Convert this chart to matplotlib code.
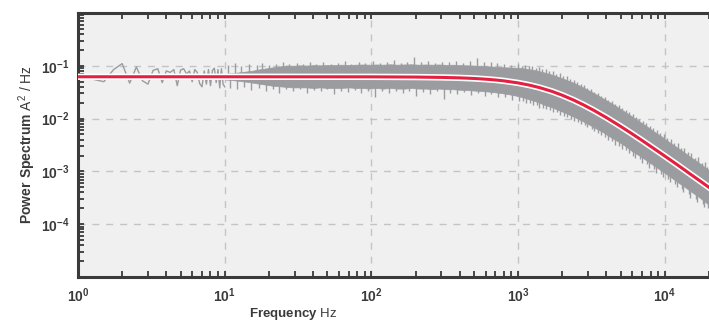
"""
Power spectrum with Lorentzian fit, log-log.
"""

import matplotlib
matplotlib.use("Agg")
import matplotlib.pyplot as plt
import matplotlib.patheffects as pe
import numpy as np
from matplotlib.ticker import LogLocator, NullFormatter

# -------------------------- Data --------------------------

# low-frequency part of the spectrum (sparse points)
low_freq = [1.0, 1.25, 1.5, 1.75, 2.0, 2.25, 2.5, 2.75, 3.0, 3.25, 3.5, 3.75,
            4.0, 4.25, 4.5, 4.75, 5.0, 5.25, 5.5, 5.75, 6.0, 6.25, 6.5, 6.75,
            7.0, 7.25, 7.5, 7.75, 8.0, 8.25, 8.5, 8.75, 9.0, 9.25, 9.5, 9.75, 10.0]
low_power = [0.062, 0.056, 0.050, 0.085, 0.110, 0.047, 0.095, 0.052, 0.045, 0.082,
             0.088, 0.048, 0.080, 0.075, 0.085, 0.042, 0.083, 0.088, 0.070, 0.080,
             0.050, 0.085, 0.075, 0.046, 0.040, 0.080, 0.045, 0.085, 0.042, 0.082,
             0.090, 0.048, 0.085, 0.038, 0.088, 0.045, 0.040]

# dense part of the spectrum: core of the noisy band
band_freq = [10, 11, 12.5, 14, 15.5, 17, 19, 21, 23.5, 26, 29, 32, 36, 40, 45, 50,
             56, 62, 70, 78, 87, 97, 108, 120, 135, 150, 168, 187, 210, 235, 260,
             290, 325, 360, 400, 450, 500, 560, 620, 700, 780, 870, 970, 1080,
             1200, 1350, 1500, 1700, 1900, 2100, 2400, 2700, 3000, 3400, 3800,
             4300, 4800, 5400, 6000, 6800, 7600, 8500, 9500, 10700, 12000, 13500,
             15000, 17000, 19000, 20000]
band_upper = [0.070, 0.072, 0.075, 0.078, 0.081, 0.085, 0.089, 0.093, 0.097, 0.101,
              0.100, 0.102, 0.101, 0.103, 0.102, 0.104, 0.103, 0.105, 0.104, 0.105,
              0.106, 0.105, 0.106, 0.105, 0.107, 0.105, 0.106, 0.107, 0.105, 0.106,
              0.105, 0.106, 0.104, 0.105, 0.103, 0.102, 0.101, 0.100, 0.098, 0.096,
              0.094, 0.093, 0.092, 0.090, 0.086, 0.081, 0.075, 0.068, 0.061, 0.055,
              0.0475, 0.0406, 0.0348, 0.0288, 0.0240, 0.0197, 0.0163, 0.0132,
              0.0109, 0.0086, 0.0070, 0.0056, 0.0046, 0.0036, 0.0029, 0.00232,
              0.00187, 0.00147, 0.00117, 0.00106]
band_lower = [0.055, 0.054, 0.052, 0.050, 0.048, 0.046, 0.044, 0.042, 0.041, 0.040,
              0.039, 0.039, 0.039, 0.038, 0.039, 0.038, 0.038, 0.038, 0.039, 0.038,
              0.038, 0.037, 0.038, 0.037, 0.038, 0.037, 0.037, 0.038, 0.037, 0.037,
              0.036, 0.037, 0.036, 0.036, 0.0352, 0.0347, 0.0340, 0.0333, 0.0326,
              0.0314, 0.0302, 0.0288, 0.0272, 0.0252, 0.0230, 0.0208, 0.0184,
              0.0164, 0.0144, 0.0128, 0.0108, 0.0092, 0.0079, 0.0065, 0.0055,
              0.0044, 0.0037, 0.0030, 0.0024, 0.00195, 0.00157, 0.00127, 0.00103,
              0.00082, 0.00065, 0.00052, 0.00042, 0.00033, 0.00026, 0.00023]

# isolated excursions above the band
spike_up_freq = [10.5, 11.8, 13, 14.6, 16.5, 18, 20, 22.5, 25, 27.5, 31, 34, 38, 42,
                 47, 53, 59, 66, 73, 82, 91, 102, 114, 127, 142, 158, 176, 196, 219,
                 244, 272, 303, 338, 377, 420, 468, 522, 582, 649, 723, 806, 899,
                 1002, 1117, 1245, 1388, 1547, 1725, 1923, 2144, 2390, 2664, 2970,
                 3311, 3691, 4115, 4587, 5114, 5701, 6355, 7085, 7898, 8805, 9816,
                 10943, 12199, 13599, 15160, 16900, 18840]
spike_up_top = [0.105, 0.112, 0.098, 0.108, 0.104, 0.115, 0.102, 0.110, 0.118, 0.106,
                0.112, 0.108, 0.120, 0.110, 0.116, 0.108, 0.114, 0.122, 0.110, 0.117,
                0.112, 0.125, 0.113, 0.118, 0.128, 0.112, 0.120, 0.150, 0.116, 0.124,
                0.114, 0.120, 0.118, 0.126, 0.114, 0.121, 0.140, 0.118, 0.120, 0.112,
                0.110, 0.104, 0.108, 0.105, 0.101, 0.095, 0.087, 0.080, 0.072, 0.063,
                0.054, 0.046, 0.0386, 0.0325, 0.0271, 0.0226, 0.0188, 0.0157, 0.0131,
                0.0109, 0.0090, 0.0074, 0.0060, 0.0050, 0.0041, 0.0034, 0.0028,
                0.0022, 0.00185, 0.00151]
hf_up_freq = [1060, 1180, 1320, 1460, 1630, 1820, 2030, 2260, 2520, 2810, 3130, 3490,
              3890, 4340, 4840, 5400, 6020, 6710, 7480, 8340, 9300, 10370, 11560,
              12890, 14370, 16020, 17860, 19500]
hf_up_top = [0.100, 0.097, 0.092, 0.086, 0.079, 0.071, 0.064, 0.057, 0.050, 0.044,
             0.037, 0.031, 0.026, 0.0218, 0.0181, 0.0148, 0.0121, 0.0099, 0.0081,
             0.0066, 0.0054, 0.0043, 0.0035, 0.0028, 0.0023, 0.0018, 0.00143, 0.0012]

# isolated excursions below the band
spike_dn_freq = [10.8, 12.2, 13.6, 15.2, 17, 19, 21.2, 23.6, 26.3, 29.3, 32.6, 36.3,
                 40.4, 45, 50, 55.7, 62, 69, 76.8, 85.5, 95.2, 106, 118, 131, 146,
                 163, 181, 202, 225, 250, 279, 310, 345, 385, 428, 477, 531, 591,
                 658, 733, 816, 909, 1012, 1127, 1255, 1398, 1557, 1734, 1931, 2150,
                 2394, 2666, 2969, 3306, 3682, 4100, 4566, 5084, 5662, 6305, 7021,
                 7819, 8707, 9696, 10797, 12023, 13389, 14910, 16604, 18490]
spike_dn_bottom = [0.038, 0.036, 0.040, 0.035, 0.038, 0.034, 0.037, 0.030, 0.036,
                   0.033, 0.037, 0.031, 0.035, 0.033, 0.036, 0.029, 0.034, 0.032,
                   0.035, 0.030, 0.034, 0.026, 0.033, 0.031, 0.034, 0.030, 0.033,
                   0.027, 0.032, 0.029, 0.033, 0.024, 0.031, 0.029, 0.032, 0.028,
                   0.030, 0.027, 0.029, 0.026, 0.026, 0.023, 0.0216, 0.0194, 0.018,
                   0.0162, 0.0149, 0.0135, 0.0117, 0.0105, 0.0091, 0.0079, 0.0068,
                   0.0057, 0.0048, 0.0040, 0.0032, 0.0027, 0.0022, 0.0018, 0.00144,
                   0.00117, 0.00095, 0.00077, 0.00062, 0.00050, 0.00041, 0.00032,
                   0.00026, 0.00021]
hf_dn_freq = [1080, 1200, 1340, 1480, 1650, 1840, 2060, 2290, 2550, 2840, 3170, 3530,
              3940, 4390, 4900, 5460, 6090, 6790, 7570, 8440, 9410, 10490, 11700,
              13040, 14540, 16210, 18070, 19700]
hf_dn_bottom = [0.0219, 0.020, 0.0183, 0.0162, 0.0146, 0.0131, 0.0114, 0.0100, 0.0087,
                0.0075, 0.0063, 0.0053, 0.0044, 0.0037, 0.0030, 0.0025, 0.0020,
                0.0017, 0.00137, 0.00111, 0.0009, 0.00073, 0.00058, 0.00047,
                0.00037, 0.0003, 0.00024, 0.0002]

# fitted curve
fit_freq = [1, 10, 100, 200, 300, 400, 500, 600, 700, 800, 1000, 1200, 1400, 1700,
            2000, 2400, 2800, 3300, 4000, 5000, 6000, 7000, 8500, 10000, 12000,
            15000, 17500, 20000]
fit_power = [0.062, 0.062, 0.0618, 0.0612, 0.0603, 0.0591, 0.0576, 0.0558, 0.0539,
             0.0518, 0.0474, 0.0429, 0.0386, 0.0328, 0.0277, 0.0223, 0.0181, 0.0142,
             0.01044, 0.00711, 0.00512, 0.00385, 0.00266, 0.00195, 0.00137, 0.00088,
             0.00065, 0.000498]

x_ticks = [1, 10, 100, 1000, 10000]
x_ticklabels = [r"$\mathbf{10^{0}}$", r"$\mathbf{10^{1}}$", r"$\mathbf{10^{2}}$",
                r"$\mathbf{10^{3}}$", r"$\mathbf{10^{4}}$"]
y_ticks = [1e-4, 1e-3, 1e-2, 1e-1]
y_ticklabels = [r"$\mathbf{10^{-4}}$", r"$\mathbf{10^{-3}}$",
                r"$\mathbf{10^{-2}}$", r"$\mathbf{10^{-1}}$"]

# -------------------------- Style --------------------------

plt.rcParams["font.family"] = ["Liberation Sans", "DejaVu Sans"]
plt.rcParams["mathtext.fontset"] = "custom"
plt.rcParams["mathtext.rm"] = "Liberation Sans"
plt.rcParams["mathtext.bf"] = "Liberation Sans:bold"

DARK = "#3a3a3a"
GRAY = "#9a9c9f"
RED = "#e3203f"

fig = plt.figure(figsize=(7.09, 3.26), dpi=100)
ax = fig.add_axes([78 / 709, 1 - 277 / 326, 1 - 78 / 709, (277 - 13) / 326])
ax.set_facecolor("#f0f0f0")

# -------------------------- Plot --------------------------

ax.plot(low_freq, low_power, color=GRAY, lw=1.0, zorder=2)
ax.fill_between(band_freq, band_lower, band_upper, color=GRAY, lw=0.5,
                edgecolor=GRAY, zorder=2)

# each spike is drawn back into the band core
for freqs, tops in [(spike_up_freq, spike_up_top), (hf_up_freq, hf_up_top)]:
    tops = np.array(tops)
    ax.vlines(freqs, tops * 0.6, tops, color=GRAY, lw=1.0, zorder=2)
for freqs, bottoms in [(spike_dn_freq, spike_dn_bottom), (hf_dn_freq, hf_dn_bottom)]:
    bottoms = np.array(bottoms)
    ax.vlines(freqs, bottoms, bottoms * 1.9, color=GRAY, lw=1.0, zorder=2)

ax.plot(fit_freq, fit_power, color=RED, lw=2.2, zorder=3,
        path_effects=[pe.Stroke(linewidth=4.6, foreground="white"), pe.Normal()])

ax.set_xscale("log")
ax.set_yscale("log")
ax.set_xlim(1, 2e4)
ax.set_ylim(1e-5, 1)

ax.set_xticks(x_ticks)
ax.set_xticklabels(x_ticklabels)
ax.set_yticks(y_ticks)
ax.set_yticklabels(y_ticklabels)
ax.xaxis.set_minor_locator(LogLocator(base=10, subs=range(2, 10), numticks=20))
ax.yaxis.set_minor_locator(LogLocator(base=10, subs=range(2, 10), numticks=20))
ax.xaxis.set_minor_formatter(NullFormatter())
ax.yaxis.set_minor_formatter(NullFormatter())

ax.tick_params(which="both", direction="in", length=4, width=1.3, color=DARK,
               top=True, right=False, labelsize=10, labelcolor=DARK)
ax.tick_params(axis="x", which="major", pad=7)
ax.tick_params(axis="y", which="major", pad=6)

for side in ["left", "top", "bottom"]:
    ax.spines[side].set_color(DARK)
    ax.spines[side].set_linewidth(2.2)
ax.spines["right"].set_visible(False)

ax.grid(True, which="major", color="#c4c4c4", lw=1.0, linestyle=(0, (5, 5)))
ax.set_axisbelow(True)

ax.set_xlabel(r"$\mathbf{Frequency}$ Hz", fontsize=9.5, color=DARK)
ax.xaxis.set_label_coords(0.341, -0.11)
ax.set_ylabel(r"$\mathbf{Power\ Spectrum}$ A$^{2}$ / Hz", fontsize=10, color=DARK)
ax.yaxis.set_label_coords(-0.064, 0.5)

fig.savefig("out.png", dpi=100)
